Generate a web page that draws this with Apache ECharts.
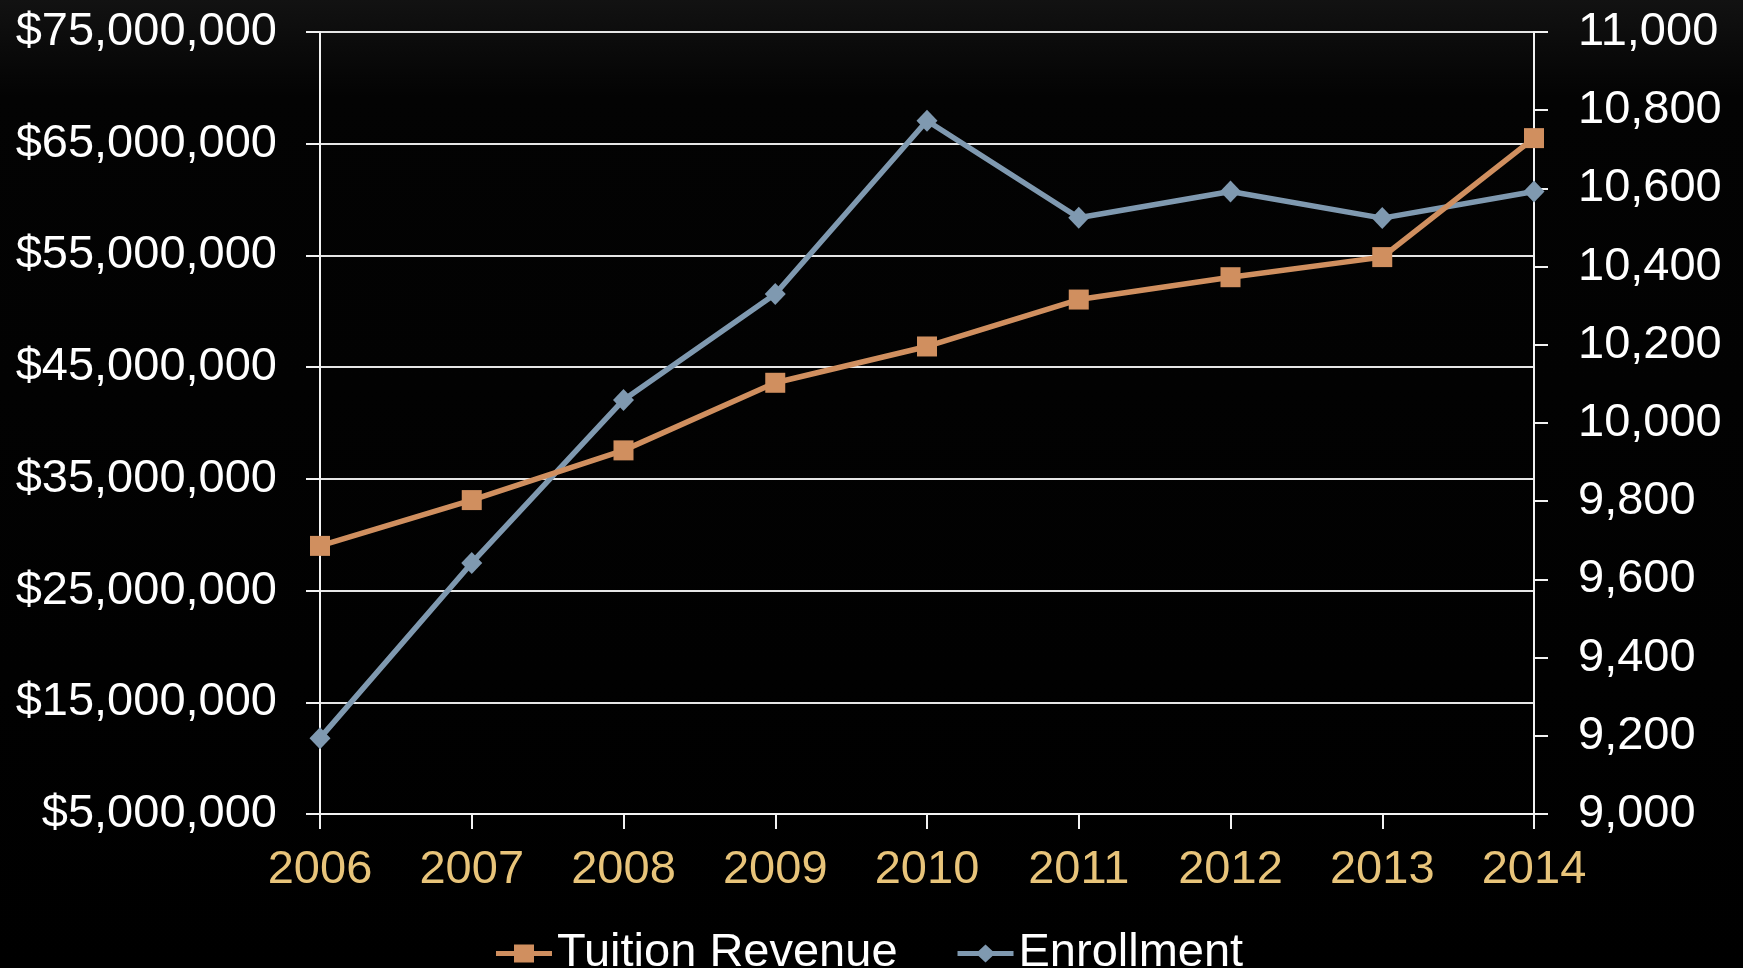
<!DOCTYPE html>
<html>
<head>
<meta charset="utf-8">
<script src="https://cdn.jsdelivr.net/npm/echarts@6/dist/echarts.min.js"></script>
<style>
  html, body { margin: 0; padding: 0; background: #000; }
  #chart { width: 1743px; height: 968px; }
</style>
</head>
<body>
<div id="chart"></div>
<script>
// values
const years = ['2006', '2007', '2008', '2009', '2010', '2011', '2012', '2013', '2014']
const tuitionRevenue = [29000000, 33100000, 37550000, 43600000, 46850000, 51050000, 53050000, 54850000, 65500000]
const enrollment = [9194, 9642, 10059, 10330, 10773, 10525, 10592, 10524, 10592]

const FONT = 'Liberation Sans, Arial, sans-serif'
const ORANGE = '#d08f5f'
const BLUE = '#7f99b0'

// legend icons: thick line with the marker in the middle
const squareIcon = 'path://M0,6.5 L18,6.5 L18,0 L38,0 L38,6.5 L56,6.5 L56,11.5 L38,11.5 L38,18 L18,18 L18,11.5 L0,11.5 Z'
const diamondIcon = 'path://M0,6.5 L21,6.5 L28,0 L35,6.5 L56,6.5 L56,11.5 L35,11.5 L28,18 L21,11.5 L0,11.5 Z'

const chart = echarts.init(document.getElementById('chart'))

const option = {
  backgroundColor: {
    type: 'linear', x: 0, y: 0, x2: 0, y2: 1,
    colorStops: [
      { offset: 0, color: '#121212' },
      { offset: 0.1, color: '#030303' },
      { offset: 1, color: '#000000' }
    ]
  },
  animation: false,
  grid: {
    left: 320,
    right: 209,
    top: 32,
    bottom: 154
  },
  legend: {
    left: 491,
    top: 925,
    itemWidth: 56,
    itemHeight: 18,
    itemGap: 60,
    textStyle: { color: '#ffffff', fontSize: 47, fontFamily: FONT, lineHeight: 47 },
    data: [
      { name: 'Tuition Revenue', icon: squareIcon, itemStyle: { color: ORANGE } },
      { name: 'Enrollment', icon: diamondIcon, itemStyle: { color: BLUE } }
    ]
  },
  xAxis: {
    type: 'category',
    boundaryGap: false,
    data: years,
    axisLine: { lineStyle: { color: '#f2f2f2', width: 2 } },
    axisTick: { alignWithLabel: true, length: 15, lineStyle: { color: '#f2f2f2', width: 2 } },
    axisLabel: { color: '#e8c47a', fontSize: 47, fontFamily: FONT, margin: 33 }
  },
  yAxis: [
    {
      type: 'value',
      min: 5000000,
      max: 75000000,
      interval: 10000000,
      axisLine: { show: true, lineStyle: { color: '#f2f2f2', width: 2 } },
      axisTick: { show: true, length: 14, lineStyle: { color: '#f2f2f2', width: 2 } },
      splitLine: { show: true, lineStyle: { color: '#e6e6e6', width: 2 } },
      axisLabel: {
        color: '#ffffff', fontSize: 47, fontFamily: FONT, margin: 43,
        formatter: v => '$' + v.toLocaleString('en-US')
      }
    },
    {
      type: 'value',
      min: 9000,
      max: 11000,
      interval: 200,
      position: 'right',
      axisLine: { show: true, lineStyle: { color: '#f2f2f2', width: 2 } },
      axisTick: { show: true, length: 14, lineStyle: { color: '#f2f2f2', width: 2 } },
      splitLine: { show: false },
      axisLabel: {
        color: '#ffffff', fontSize: 47, fontFamily: FONT, margin: 44,
        formatter: v => v.toLocaleString('en-US')
      }
    }
  ],
  series: [
    {
      name: 'Tuition Revenue',
      type: 'line',
      yAxisIndex: 0,
      z: 3,
      data: tuitionRevenue,
      symbol: 'rect',
      symbolSize: 20,
      itemStyle: { color: ORANGE },
      lineStyle: { color: ORANGE, width: 5.5 }
    },
    {
      name: 'Enrollment',
      type: 'line',
      yAxisIndex: 1,
      z: 2,
      data: enrollment,
      symbol: 'diamond',
      symbolSize: [21, 22],
      itemStyle: { color: BLUE },
      lineStyle: { color: BLUE, width: 5.5 }
    }
  ]
}

chart.setOption(option)
</script>
</body>
</html>
